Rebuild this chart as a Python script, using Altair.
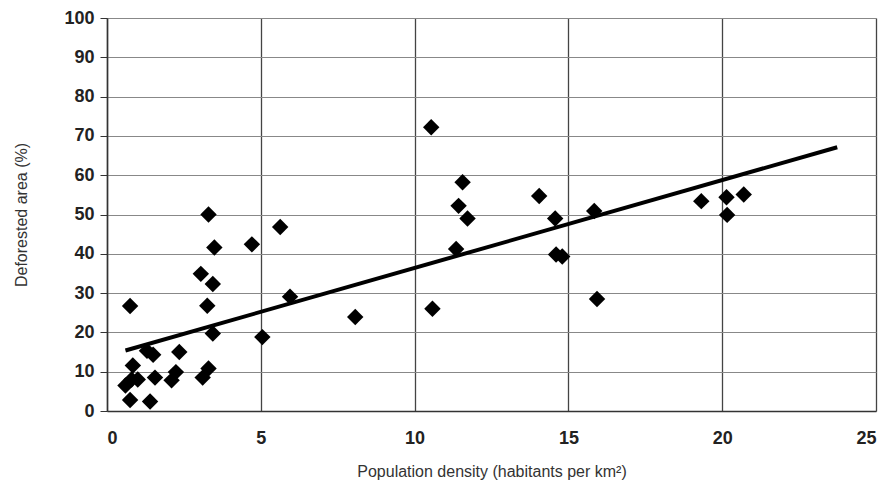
import altair as alt
import pandas as pd

density = [0.75, 3.26, 3.44, 3.44, 5.05, 1.3, 1.5, 2.35, 0.84, 0.6, 0.8, 1.0,
           1.56, 0.75, 1.40, 2.24, 2.10, 3.30, 3.11,
           3.30, 5.63, 3.49, 4.71, 3.05, 8.07, 5.95,
           10.54, 11.56, 11.43, 11.72, 11.35, 10.58,
           14.05, 14.57, 15.84, 14.6, 14.8, 15.93,
           19.32, 20.14, 20.70, 20.16]
deforested = [26.7, 26.8, 32.3, 19.7, 18.8, 15.3, 14.3, 15.0, 11.6, 6.5, 8.0, 8.0,
              8.5, 2.8, 2.4, 9.9, 7.8, 10.8, 8.5,
              50.0, 46.8, 41.6, 42.4, 34.9, 23.9, 29.1,
              72.2, 58.2, 52.2, 49.0, 41.2, 26.0,
              54.7, 49.0, 50.9, 39.8, 39.3, 28.5,
              53.4, 54.4, 55.1, 49.9]

trend_x = [0.6, 23.74]
trend_y = [15.4, 67.1]

x_ticks = [0, 5, 10, 15, 20, 25]
y_ticks = [0, 10, 20, 30, 40, 50, 60, 70, 80, 90, 100]

pts = pd.DataFrame({"x": density, "y": deforested})
trend = pd.DataFrame({"x": trend_x, "y": trend_y})

FONT = "Liberation Sans"

xs = alt.Scale(domain=[0, 25], nice=False, zero=True)
ys = alt.Scale(domain=[0, 100], nice=False)

xaxis = alt.Axis(values=x_ticks, title="Population density (habitants per km²)",
                 grid=True, gridColor="#444444", gridWidth=1.3,
                 labelFont=FONT, labelFontWeight="bold", labelFontSize=18, labelColor="#222222",
                 titleFont=FONT, titleFontWeight="normal", titleFontSize=16, titleColor="#333333",
                 titlePadding=16, labelPadding=18, tickSize=0, labelOverlap=False,
                 domainColor="#333333", domainWidth=1.5)
yaxis = alt.Axis(values=y_ticks, title="Deforested area (%)",
                 grid=True, gridColor="#888888", gridWidth=1.2,
                 labelFont=FONT, labelFontWeight="bold", labelFontSize=18, labelColor="#222222",
                 titleFont=FONT, titleFontWeight="normal", titleFontSize=16, titleColor="#333333",
                 titlePadding=34, labelPadding=6, tickSize=7, tickColor="#333333",
                 labelOverlap=False,
                 domainColor="#333333", domainWidth=1.5)

points = alt.Chart(pts).mark_point(shape="diamond", filled=True, color="#000000",
                                    size=270, opacity=1).encode(
    x=alt.X("x:Q", scale=xs, axis=xaxis),
    y=alt.Y("y:Q", scale=ys, axis=yaxis),
)

line = alt.Chart(trend).mark_line(color="#000000", strokeWidth=4).encode(
    x=alt.X("x:Q", scale=xs, axis=xaxis),
    y=alt.Y("y:Q", scale=ys, axis=yaxis),
)

chart = alt.layer(points, line).properties(
    width=769, height=393,
    autosize=alt.AutoSizeParams(type="none"),
    padding={"left": 99, "top": 10, "right": 3, "bottom": 70},
).configure_view(stroke="#555555", strokeWidth=1.2).configure(background="white")

chart.save("out.html", embed_options={"renderer": "svg", "actions": False})
